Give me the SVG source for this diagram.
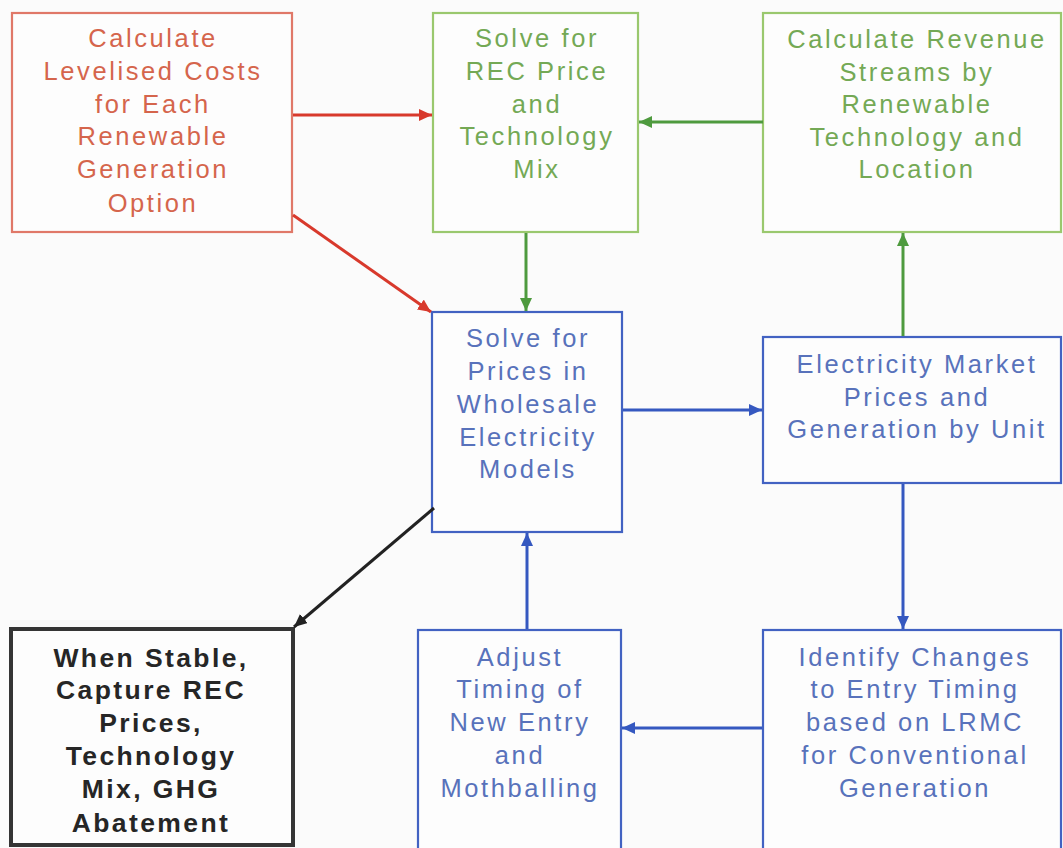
<svg xmlns="http://www.w3.org/2000/svg" width="1063" height="848" viewBox="0 0 1063 848">
<style>
text{font-family:"Liberation Sans",Arial,sans-serif;font-size:25.5px;letter-spacing:2.6px;text-anchor:middle}
.box{stroke-width:2.2}
.red rect{fill:#fdfdfd;stroke:#e07868}
.red text{fill:#d5654c}
.green rect{fill:#fdfdfd;stroke:#9ac86e}
.green text{fill:#74a955}
.blue rect{fill:#fdfdfd;stroke:#4262c2}
.blue text{fill:#5872bb}
.black rect{fill:#fdfdfd;stroke:#353535;stroke-width:4}
.black text{fill:#262626;font-weight:bold;font-size:26.5px;letter-spacing:2.4px}
.c{fill:none;stroke-width:3}
.cr{stroke:#d8392c}
.cg{stroke:#4e9a3e}
.cb{stroke:#3558c0}
.ck{stroke:#222}
</style>
<defs>
<marker id="ar" markerUnits="userSpaceOnUse" markerWidth="14" markerHeight="12" refX="13" refY="6" orient="auto"><path d="M0,0 L13,6 L0,12 z" fill="#d8392c"/></marker>
<marker id="ag" markerUnits="userSpaceOnUse" markerWidth="14" markerHeight="12" refX="13" refY="6" orient="auto"><path d="M0,0 L13,6 L0,12 z" fill="#4e9a3e"/></marker>
<marker id="ab" markerUnits="userSpaceOnUse" markerWidth="14" markerHeight="12" refX="13" refY="6" orient="auto"><path d="M0,0 L13,6 L0,12 z" fill="#3558c0"/></marker>
<marker id="ak" markerUnits="userSpaceOnUse" markerWidth="14" markerHeight="12" refX="13" refY="6" orient="auto"><path d="M0,0 L13,6 L0,12 z" fill="#222"/></marker>
</defs>
<rect width="1063" height="848" fill="#fbfbfb"/>

<g id="levelised-costs" class="red">
<rect class="box" x="12" y="13" width="280" height="219"/>
<text x="153" y="47">Calculate</text>
<text x="153" y="80">Levelised Costs</text>
<text x="153" y="113">for Each</text>
<text x="153" y="145">Renewable</text>
<text x="153" y="178">Generation</text>
<text x="153" y="212">Option</text>
</g>

<g id="rec-price" class="green">
<rect class="box" x="433" y="13" width="205" height="219"/>
<text x="537" y="47">Solve for</text>
<text x="537" y="80">REC Price</text>
<text x="537" y="113">and</text>
<text x="537" y="145">Technology</text>
<text x="537" y="178">Mix</text>
</g>

<g id="revenue-streams" class="green">
<rect class="box" x="763" y="13" width="298" height="219"/>
<text x="917" y="48">Calculate Revenue</text>
<text x="917" y="81">Streams by</text>
<text x="917" y="113">Renewable</text>
<text x="917" y="146">Technology and</text>
<text x="917" y="178">Location</text>
</g>

<g id="wholesale-prices" class="blue">
<rect class="box" x="432" y="312" width="190" height="220"/>
<text x="528" y="347">Solve for</text>
<text x="528" y="380">Prices in</text>
<text x="528" y="413">Wholesale</text>
<text x="528" y="446">Electricity</text>
<text x="528" y="478">Models</text>
</g>

<g id="market-prices" class="blue">
<rect class="box" x="763" y="337" width="298" height="146"/>
<text x="917" y="373">Electricity Market</text>
<text x="917" y="406">Prices and</text>
<text x="917" y="438">Generation by Unit</text>
</g>

<g id="when-stable" class="black">
<rect x="11" y="629" width="282" height="216"/>
<text x="151" y="667">When Stable,</text>
<text x="151" y="699">Capture REC</text>
<text x="151" y="732">Prices,</text>
<text x="151" y="765">Technology</text>
<text x="151" y="798">Mix, GHG</text>
<text x="151" y="832">Abatement</text>
</g>

<g id="adjust-timing" class="blue">
<rect class="box" x="418" y="630" width="203" height="230"/>
<text x="520" y="666">Adjust</text>
<text x="520" y="698">Timing of</text>
<text x="520" y="731">New Entry</text>
<text x="520" y="764">and</text>
<text x="520" y="797">Mothballing</text>
</g>

<g id="identify-changes" class="blue">
<rect class="box" x="763" y="630" width="298" height="230"/>
<text x="915" y="666">Identify Changes</text>
<text x="915" y="698">to Entry Timing</text>
<text x="915" y="731">based on LRMC</text>
<text x="915" y="764">for Conventional</text>
<text x="915" y="797">Generation</text>
</g>

<g id="connectors">
<line class="c cr" x1="293" y1="115" x2="432" y2="115" marker-end="url(#ar)"/>
<line class="c cr" x1="293" y1="215" x2="431" y2="312" marker-end="url(#ar)"/>
<line class="c cg" x1="763" y1="122" x2="639" y2="122" marker-end="url(#ag)"/>
<line class="c cg" x1="526" y1="233" x2="526" y2="311" marker-end="url(#ag)"/>
<line class="c cg" x1="903" y1="336" x2="903" y2="233" marker-end="url(#ag)"/>
<line class="c cb" x1="623" y1="410" x2="762" y2="410" marker-end="url(#ab)"/>
<line class="c cb" x1="903" y1="484" x2="903" y2="629" marker-end="url(#ab)"/>
<line class="c cb" x1="762" y1="728" x2="622" y2="728" marker-end="url(#ab)"/>
<line class="c cb" x1="527" y1="629" x2="527" y2="533" marker-end="url(#ab)"/>
<line class="c ck" x1="434" y1="508" x2="294" y2="627" marker-end="url(#ak)"/>
</g>
</svg>
